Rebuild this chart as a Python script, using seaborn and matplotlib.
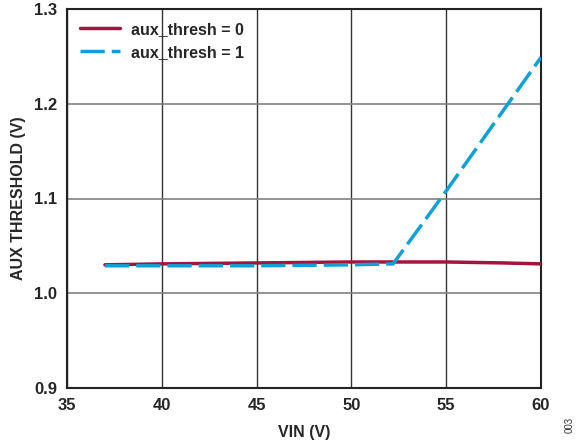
import matplotlib
matplotlib.use("Agg")
import matplotlib.pyplot as plt
import seaborn as sns
import pandas as pd

vin0 = [37, 40, 45, 50, 52.2, 55, 58, 60]
thr0 = [1.030, 1.031, 1.032, 1.033, 1.033, 1.033, 1.032, 1.031]
vin1 = [37, 40, 45, 50, 52.2, 55, 60]
thr1 = [1.029, 1.029, 1.029, 1.030, 1.031, 1.108, 1.249]

sns.set_theme(style="white")
plt.rcParams['font.family'] = ['Liberation Sans', 'DejaVu Sans']
plt.rcParams['font.weight'] = 'bold'

df = pd.concat([
    pd.DataFrame({"VIN": vin0, "thr": thr0, "series": "aux_thresh = 0"}),
    pd.DataFrame({"VIN": vin1, "thr": thr1, "series": "aux_thresh = 1"}),
])

fig = plt.figure(figsize=(5.79, 4.46), dpi=100)
ax = fig.add_axes([67/579, 1-388/446, (541-67)/579, (388-9)/446])

sns.lineplot(data=df, x="VIN", y="thr", hue="series", style="series",
             palette={"aux_thresh = 0": "#A0163C", "aux_thresh = 1": "#0FA0D8"},
             dashes={"aux_thresh = 0": "", "aux_thresh = 1": (7, 2)},
             linewidth=2.5, ax=ax, zorder=3)

ax.set_xlim(35, 60)
ax.set_ylim(0.9, 1.3)
ax.set_xticks([35, 40, 45, 50, 55, 60])
ax.set_yticks([0.9, 1.0, 1.1, 1.2, 1.3])
ax.set_yticklabels(["0.9", "1.0", "1.1", "1.2", "1.3"])
ax.xaxis.grid(True, color="#333333", linewidth=1.0)
ax.yaxis.grid(True, color="#808080", linewidth=1.2)
for s in ax.spines.values():
    s.set_color("#222222")
    s.set_linewidth(1.5)
ax.tick_params(axis='both', labelsize=12, length=0, pad=7)
for lbl in ax.get_xticklabels() + ax.get_yticklabels():
    lbl.set_fontweight('bold')
ax.set_xlabel("VIN (V)", fontsize=11.5, fontweight='bold', labelpad=9)
ax.set_ylabel("AUX THRESHOLD (V)", fontsize=11.5, fontweight='bold', labelpad=6)

leg = ax.legend(loc="upper left", frameon=False, fontsize=11.5, handlelength=2.5,
                handletextpad=0.7, bbox_to_anchor=(0.0, 1.0), borderaxespad=0.4)
for t in leg.get_texts():
    t.set_fontweight('bold')

fig.text(570/579, 1-425/446, "003", rotation=90, fontsize=7, fontweight='normal',
         ha='center', va='center', color="#333333")

fig.savefig("out.png", dpi=100)
